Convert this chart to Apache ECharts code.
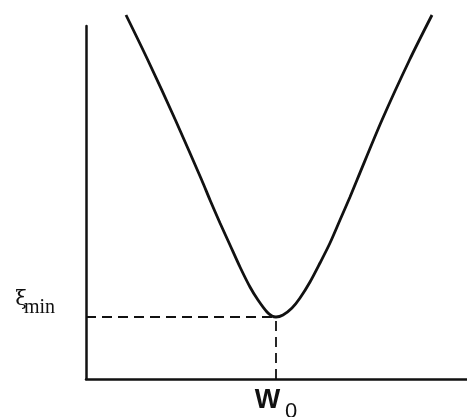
<!DOCTYPE html>
<html>
<head>
<meta charset="utf-8">
<script src="https://cdn.jsdelivr.net/npm/echarts@6/dist/echarts.min.js"></script>
<style>
  html, body { margin: 0; padding: 0; background: #fff; }
  #chart { width: 467px; height: 417px; }
</style>
</head>
<body>
<div id="chart"></div>
<script>
// Mean-square-error surface as a function of a single weight w.
const weights = [4.0, 6.18, 8.94, 11.57, 12.4, 13.4, 14.4, 15.4, 16.4, 17.2, 18.1, 18.6, 19.0,
                 19.7, 20.6, 21.4, 22.4, 23.4, 24.4, 25.4, 26.4, 27.1, 29.6, 32.35, 34.6];
const errors  = [36.4, 31.9, 25.9, 19.9, 17.9, 15.6, 13.4, 11.2, 9.2, 7.9, 6.7, 6.3, 6.2,
                 6.4, 7.1, 8.1, 9.7, 11.6, 13.6, 15.9, 18.2, 19.9, 25.9, 31.9, 36.4];

// Optimum weight and the minimum error it reaches
const wOpt = 19.0;
const xiMin = 6.2;

// Axis extents
const xRange = [0, 38.1];
const yRange = [0, 35.3];

const curve = weights.map((w, i) => [w, errors[i]]);

const chart = echarts.init(document.getElementById('chart'), null, { renderer: 'canvas' });

chart.setOption({
  animation: false,
  backgroundColor: '#ffffff',
  grid: { left: 86, right: 0, top: 26, bottom: 38, outerBoundsMode: 'none', containLabel: false },
  xAxis: {
    type: 'value',
    min: xRange[0],
    max: xRange[1],
    splitLine: { show: false },
    axisTick: { show: false },
    axisLine: { onZero: false, lineStyle: { color: '#111', width: 2.5 } },
    axisLabel: {
      customValues: [wOpt],
      margin: 8,
      formatter: () => '{w|W}{s|0}',
      rich: {
        w: { fontFamily: 'Liberation Sans', fontWeight: 'bold', fontSize: 27, color: '#111', verticalAlign: 'top' },
        s: { fontFamily: 'Liberation Sans', fontSize: 22, color: '#111', verticalAlign: 'bottom', padding: [14, 0, 0, 5] }
      }
    }
  },
  yAxis: {
    type: 'value',
    min: yRange[0],
    max: yRange[1],
    splitLine: { show: false },
    axisTick: { show: false },
    axisLine: { onZero: false, lineStyle: { color: '#111', width: 2.5 } },
    axisLabel: {
      customValues: [xiMin],
      margin: 31,
      verticalAlign: 'bottom',
      padding: [0, 0, -1, 0],
      formatter: () => '{x|ξ}{m|min}',
      rich: {
        x: { fontFamily: 'DejaVu Serif', fontSize: 21, color: '#111', verticalAlign: 'top' },
        m: { fontFamily: 'Liberation Serif', fontSize: 20, color: '#111', verticalAlign: 'bottom', padding: [9, 0, 0, -3] }
      }
    }
  },
  series: [{
    type: 'line',
    data: curve,
    smooth: 0.3,
    clip: false,
    symbol: 'none',
    lineStyle: { color: '#111', width: 2.8 },
    markLine: {
      silent: true,
      symbol: 'none',
      label: { show: false },
      lineStyle: { color: '#111', width: 1.8, type: [10, 6] },
      data: [
        [{ coord: [xRange[0], xiMin] }, { coord: [wOpt, xiMin] }],
        [{ coord: [wOpt, yRange[0]] }, { coord: [wOpt, xiMin] }]
      ]
    }
  }]
});
</script>
</body>
</html>
